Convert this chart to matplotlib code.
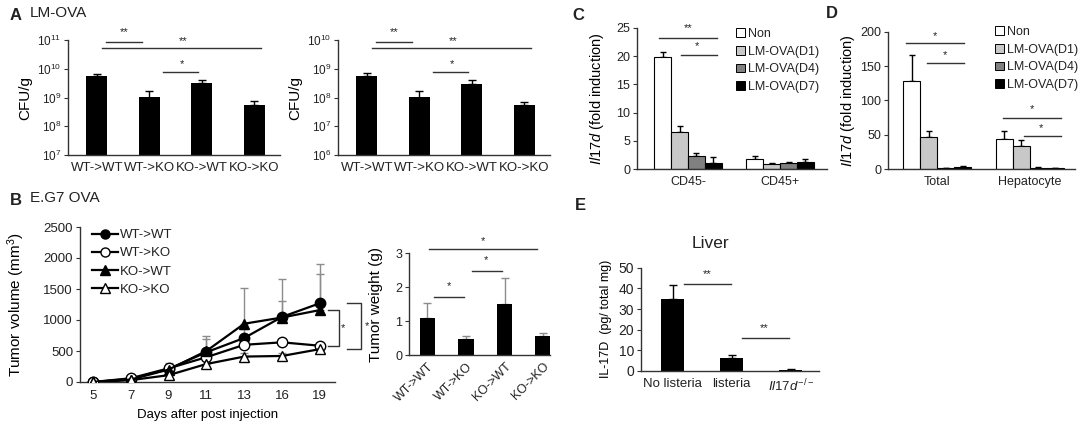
import numpy as np
import matplotlib
matplotlib.use('Agg')
import matplotlib.pyplot as plt
from matplotlib.patches import Patch
from matplotlib.lines import Line2D

plt.rcParams['font.family'] = 'Liberation Sans'
plt.rcParams['mathtext.fontset'] = 'custom'
plt.rcParams['mathtext.rm'] = 'Liberation Sans'
plt.rcParams['mathtext.it'] = 'Liberation Sans:italic'
plt.rcParams['axes.linewidth'] = 1.0
plt.rcParams['text.color'] = '#222222'
plt.rcParams['xtick.color'] = '#222222'
plt.rcParams['ytick.color'] = '#222222'

# ---- data ----
groups = ['WT->WT', 'WT->KO', 'KO->WT', 'KO->KO']
cfu_1 = [5.6e9, 1.0e9, 3.1e9, 5.6e8]
cfu_1_top = [6.6e9, 1.75e9, 4.0e9, 7.4e8]
cfu_2 = [5.7e8, 1.0e8, 3.0e8, 5.6e7]
cfu_2_top = [6.9e8, 1.7e8, 4.0e8, 7.2e7]

days = ['5', '7', '9', '11', '13', '16', '19']
vol_wt_wt = [0, 50, 210, 480, 710, 1050, 1270]
vol_wt_wt_err = [5, 15, 100, 260, 150, 610, 640]
vol_wt_ko = [0, 60, 220, 400, 600, 640, 585]
vol_wt_ko_err = [5, 10, 60, 100, 60, 60, 40]
vol_ko_wt = [0, 40, 200, 500, 940, 1040, 1160]
vol_ko_wt_err = [5, 10, 80, 200, 570, 270, 580]
vol_ko_ko = [0, 30, 110, 290, 410, 420, 530]
vol_ko_ko_err = [5, 10, 40, 60, 50, 40, 40]

weight = [1.08, 0.46, 1.49, 0.57]
weight_err = [0.46, 0.11, 0.77, 0.09]

treat = ['Non', 'LM-OVA(D1)', 'LM-OVA(D4)', 'LM-OVA(D7)']
treat_colors = ['white', '#c8c8c8', '#808080', 'black']
c_groups = ['CD45-', 'CD45+']
c_non = [19.8, 1.75]
c_non_err = [0.9, 0.55]
c_d1 = [6.5, 0.9]
c_d1_err = [1.2, 0.2]
c_d4 = [2.25, 1.05]
c_d4_err = [0.55, 0.15]
c_d7 = [1.0, 1.3]
c_d7_err = [1.1, 0.4]

d_groups = ['Total', 'Hepatocyte']
d_non = [128, 43.6]
d_non_err = [38, 12.4]
d_d1 = [47, 33]
d_d1_err = [9, 9.6]
d_d4 = [1.0, 1.8]
d_d4_err = [0.3, 0.5]
d_d7 = [3.0, 1.0]
d_d7_err = [1.5, 0.3]

e_groups = ['No listeria', 'listeria', r'$\mathit{Il17d}^{-/-}$']
e_vals = [34.7, 6.45, 0.5]
e_err = [6.9, 1.45, 0.3]

W, H = 1080, 425
fig = plt.figure(figsize=(10.8, 4.25), dpi=100)


def box(l, t, r, b):
    ax = fig.add_axes([l / W, 1 - b / H, (r - l) / W, (b - t) / H])
    for s in ['top', 'right']:
        ax.spines[s].set_visible(False)
    for s in ['left', 'bottom']:
        ax.spines[s].set_color('#333333')
    ax.tick_params(axis='y', direction='out', length=3, labelsize=9, pad=2, color='#333333')
    ax.tick_params(axis='x', length=0, labelsize=9, pad=5)
    return ax


def sig(ax, x0, x1, y, label, tx, ty, fs=8):
    ax.plot([x0, x1], [y, y], color='#333333', lw=1, clip_on=False)
    ax.text(tx, ty, label, ha='center', va='center', fontsize=fs, clip_on=False)


def ylab(ax, text, xpx, l, r, fs=10):
    ax.set_ylabel(text, fontsize=fs)
    ax.yaxis.set_label_coords((xpx - l) / (r - l), 0.5)


# ---- panel A ----
for (l, r, vals, tops, lo) in [(68, 280, cfu_1, cfu_1_top, 7), (338, 550, cfu_2, cfu_2_top, 6)]:
    ax = box(l, 40, r, 155)
    x = np.arange(4)
    ax.bar(x, vals, width=0.4, color='black', bottom=10.0 ** lo, zorder=2)
    ax.errorbar(x, vals, yerr=[np.zeros(4), np.array(tops) - np.array(vals)],
                fmt='none', ecolor='black', elinewidth=1, capsize=3, capthick=1, zorder=1)
    ax.set_yscale('log')
    ax.set_ylim(10.0 ** lo, 10.0 ** (lo + 4))
    ax.set_yticks([10.0 ** k for k in range(lo, lo + 5)])
    ax.set_yticklabels([r'$10^{%d}$' % k for k in range(lo, lo + 5)], fontsize=8.5)
    ax.minorticks_off()
    ax.set_xlim(-0.55, 3.49)
    ax.set_xticks(x)
    ax.set_xticklabels(groups, fontsize=9.5)
    ylab(ax, 'CFU/g', 32 if l == 68 else 302, l, r, fs=11)
    top = lo + 4
    sig(ax, 0.18, 0.86, 10 ** (top - 0.06), '**', 0.52, 10 ** (top + 0.28))
    sig(ax, 0.1, 3.13, 10 ** (top - 0.29), '**', 1.64, 10 ** (top - 0.05))
    sig(ax, 1.26, 1.92, 10 ** (top - 1.11), '*', 1.62, 10 ** (top - 0.84))

fig.text(10 / W, 1 - 16 / H, 'A', fontsize=12, fontweight='bold', va='center')
fig.text(30 / W, 1 - 13 / H, 'LM-OVA', fontsize=11, va='center')
fig.text(10 / W, 1 - 201 / H, 'B', fontsize=12, fontweight='bold', va='center')
fig.text(30 / W, 1 - 198 / H, 'E.G7 OVA', fontsize=11, va='center')

# ---- panel B left ----
l, r = 80, 335
ax = box(l, 227, r, 382)
x = np.arange(len(days))
series = [(vol_wt_wt, vol_wt_wt_err, 'o', 'black', 'WT->WT'),
          (vol_wt_ko, vol_wt_ko_err, 'o', 'white', 'WT->KO'),
          (vol_ko_wt, vol_ko_wt_err, '^', 'black', 'KO->WT'),
          (vol_ko_ko, vol_ko_ko_err, '^', 'white', 'KO->KO')]
handles = []
for vals, err, mk, fc, lab in series:
    ax.errorbar(x, vals, yerr=[np.zeros(len(vals)), err], fmt='none', ecolor='#8c8c8c',
                elinewidth=1, capsize=3, capthick=1, zorder=1)
    ax.plot(x, vals, color='black', lw=1.6, marker=mk, markersize=7.5,
            markerfacecolor=fc, markeredgecolor='black', markeredgewidth=1, zorder=3)
    handles.append(Line2D([], [], color='black', lw=1.6, marker=mk, markersize=6.5,
                          markerfacecolor=fc, markeredgecolor='black'))
ax.set_xlim(-0.34, 6.4)
ax.set_ylim(0, 2500)
ax.set_yticks(range(0, 2501, 500))
ax.set_xticks(x)
ax.set_xticklabels(days)
ax.tick_params(axis='both', labelsize=9.5)
ax.tick_params(axis='x', pad=6)
ylab(ax, 'Tumor volume (mm$^3$)', 27, l, r, fs=11)
ax.set_xlabel('Days after post injection', fontsize=9.5, labelpad=5)
ax.legend(handles, [s[4] for s in series], loc='upper left', frameon=False, fontsize=9.5,
          bbox_to_anchor=(92 / W, 1 - 229 / H), bbox_transform=fig.transFigure,
          borderpad=0, borderaxespad=0, handlelength=2.0, handletextpad=0.1, labelspacing=0.45)
# brackets
for xa, xb, y0, y1, tx in [(6.22, 6.5, vol_ko_wt[-1], vol_wt_ko[-1], 6.62),
                           (6.72, 7.1, vol_wt_wt[-1], vol_ko_ko[-1], 7.25)]:
    ax.plot([xa, xb, xb, xa], [y0, y0, y1, y1], color='#333333', lw=1, clip_on=False)
    ax.text(tx, (y0 + y1) / 2, '*', fontsize=8, ha='center', va='center', clip_on=False)

# ---- panel B right ----
l, r = 409, 550
ax = box(l, 253, r, 355)
x = np.arange(4)
ax.bar(x, weight, width=0.4, color='black', zorder=2)
ax.errorbar(x, weight, yerr=[np.zeros(4), weight_err], fmt='none', ecolor='#8c8c8c',
            elinewidth=1, capsize=3, capthick=1, zorder=1)
ax.set_xlim(-0.48, 3.18)
ax.set_ylim(0, 3)
ax.set_yticks([0, 1, 2, 3])
ax.set_xticks(x)
ax.set_xticklabels(groups, rotation=45, ha='right', rotation_mode='anchor', fontsize=9)
ax.tick_params(axis='x', pad=4)
ylab(ax, 'Tumor weight (g)', 383, l, r, fs=11)
sig(ax, 0.17, 0.95, 1.72, '*', 0.56, 2.02)
sig(ax, 1.16, 1.94, 2.48, '*', 1.51, 2.78)
sig(ax, 0.04, 2.84, 3.12, '*', 1.44, 3.36)

# ---- panels C and D ----
def grouped(ax, cats, series_vals, series_err, w):
    x = np.arange(len(cats))
    for i, (v, e) in enumerate(zip(series_vals, series_err)):
        xs = x + (i - 1.5) * w
        ax.bar(xs, v, width=w, color=treat_colors[i], edgecolor='black', lw=0.8, zorder=2)
        ax.errorbar(xs, v, yerr=[np.zeros(len(v)), e], fmt='none', ecolor='black',
                    elinewidth=1, capsize=2.5, capthick=1, zorder=1)
    ax.set_xticks(x)
    ax.set_xticklabels(cats, fontsize=9)


leg_handles = [Patch(facecolor=c, edgecolor='black', lw=0.7) for c in treat_colors]

l, r = 637, 827
ax = box(l, 28, r, 169)
grouped(ax, c_groups, [c_non, c_d1, c_d4, c_d7], [c_non_err, c_d1_err, c_d4_err, c_d7_err], 0.184)
ax.set_xlim(-0.554, 1.51)
ax.set_ylim(0, 25)
ax.set_yticks(range(0, 26, 5))
ylab(ax, r'$\mathit{Il17d}$ (fold induction)', 606, l, r, fs=10.5)
sig(ax, -0.315, 0.315, 23.2, '**', 0.0, 24.9)
sig(ax, -0.076, 0.315, 20.2, '*', 0.1, 21.8)
ax.legend(leg_handles, treat, loc='upper left', frameon=False, fontsize=9,
          bbox_to_anchor=(736 / W, 1 - 28 / H), bbox_transform=fig.transFigure,
          borderpad=0, borderaxespad=0, handlelength=0.7, handleheight=0.7,
          handletextpad=0.25, labelspacing=0.45)
fig.text(572 / W, 1 - 15 / H, 'C', fontsize=12, fontweight='bold', va='center')

l, r = 888, 1075
ax = box(l, 31.7, r, 169)
grouped(ax, d_groups, [d_non, d_d1, d_d4, d_d7], [d_non_err, d_d1_err, d_d4_err, d_d7_err], 0.184)
ax.set_xlim(-0.53, 1.49)
ax.set_ylim(0, 200)
ax.set_yticks(range(0, 201, 50))
ylab(ax, r'$\mathit{Il17d}$ (fold induction)', 857, l, r, fs=10.5)
sig(ax, -0.337, 0.293, 183, '*', -0.02, 194)
sig(ax, -0.11, 0.293, 155, '*', 0.087, 166)
sig(ax, 0.717, 1.337, 75, '*', 1.02, 87)
sig(ax, 0.935, 1.337, 48.4, '*', 1.12, 60)
ax.legend(leg_handles, treat, loc='upper left', frameon=False, fontsize=9,
          bbox_to_anchor=(995 / W, 1 - 26 / H), bbox_transform=fig.transFigure,
          borderpad=0, borderaxespad=0, handlelength=0.7, handleheight=0.7,
          handletextpad=0.25, labelspacing=0.45)
fig.text(826 / W, 1 - 13 / H, 'D', fontsize=12, fontweight='bold', va='center')

# ---- panel E ----
l, r = 641, 819
ax = box(l, 267.7, r, 371)
x = np.arange(3)
ax.bar(x, e_vals, width=0.39, color='black', zorder=2)
ax.errorbar(x, e_vals, yerr=[np.zeros(3), e_err], fmt='none', ecolor='black',
            elinewidth=1, capsize=3, capthick=1, zorder=1)
ax.set_xlim(-0.534, 2.48)
ax.set_ylim(0, 50)
ax.set_yticks(range(0, 51, 10))
ax.set_xticks(x)
ax.set_xticklabels(e_groups, fontsize=9.5)
ax.tick_params(axis='y', labelsize=10)
ylab(ax, 'IL-17D  (pg/ total mg)', 612, l, r, fs=9)
sig(ax, 0.195, 0.99, 42.1, '**', 0.58, 47.0)
sig(ax, 1.18, 1.97, 16.0, '**', 1.55, 21.0)
fig.text(710 / W, 1 - 243 / H, 'Liver', fontsize=12.5, ha='center', va='center')
fig.text(575 / W, 1 - 205 / H, 'E', fontsize=12, fontweight='bold', va='center')

fig.savefig('out.png', dpi=100)
